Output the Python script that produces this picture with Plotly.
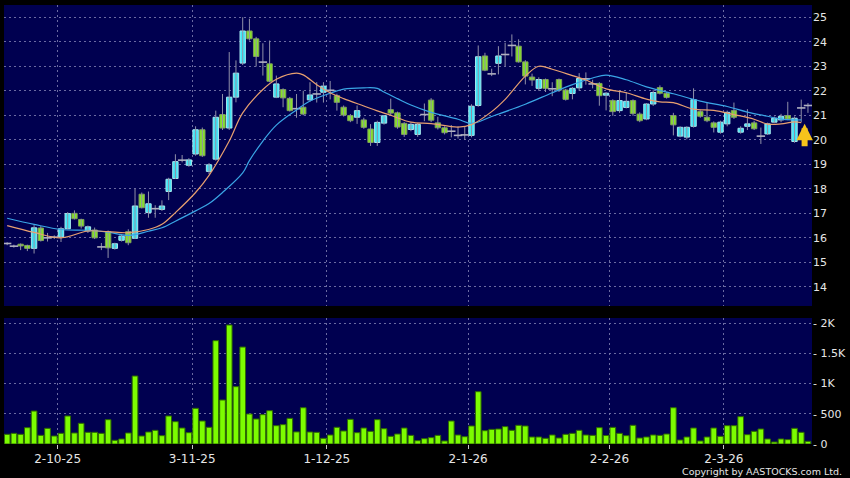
import plotly.graph_objects as go

# month start labels (first trading day of each month) and their candle index
month_labels = ["2-10-25", "3-11-25", "1-12-25", "2-1-26", "2-2-26", "2-3-26"]
month_start = [8, 28, 48, 69, 90, 107]

opens = [
    15.77, 15.66, 15.74, 15.69, 15.57, 16.40, 16.00, 16.03, 16.04, 16.37,
    17.00, 16.75, 16.28, 16.32, 15.63, 16.25, 15.57, 15.90, 16.25, 15.98,
    17.78, 17.03, 17.19, 17.16, 17.89, 18.42, 19.17, 18.96, 19.42, 20.41,
    18.71, 19.21, 21.03, 20.48, 21.74, 23.13, 24.44, 24.12, 23.17, 23.10,
    21.74, 22.05, 21.69, 21.27, 21.33, 21.63, 21.87, 21.94, 22.02, 21.80,
    21.33, 20.99, 20.92, 20.81, 20.44, 19.89, 20.68, 21.23, 21.10, 20.67,
    20.42, 20.22, 21.03, 21.62, 20.69, 20.49, 20.35, 20.18, 20.20, 20.18,
    21.40, 23.42, 22.69, 23.12, 23.48, 23.85, 23.82, 23.18, 22.56, 22.10,
    22.46, 22.08, 22.46, 22.03, 21.89, 22.12, 22.49, 22.28, 22.30, 21.82,
    21.60, 21.19, 21.32, 21.60, 21.05, 20.85, 21.46, 22.13, 21.90, 20.99,
    20.15, 20.11, 20.55, 21.15, 20.92, 20.69, 20.31, 20.65, 21.19, 20.31,
    20.55, 20.69, 20.15, 20.24, 20.72, 20.81, 20.99, 19.93, 21.30, 21.40,
]
highs = [
    15.82, 15.72, 15.77, 15.72, 16.52, 16.48, 16.20, 16.10, 16.45, 17.05,
    17.12, 16.78, 16.50, 16.42, 15.79, 16.30, 15.80, 16.15, 16.35, 18.00,
    17.85, 17.89, 17.33, 17.53, 18.45, 19.41, 19.38, 19.25, 20.55, 20.50,
    19.05, 21.19, 21.87, 23.58, 23.24, 25.00, 24.94, 24.20, 23.94, 24.05,
    22.62, 22.10, 21.75, 21.87, 22.00, 22.35, 22.35, 22.35, 22.40, 21.88,
    21.40, 21.05, 21.40, 20.90, 20.64, 20.78, 21.00, 21.68, 21.15, 20.72,
    20.70, 20.68, 21.48, 21.70, 20.94, 20.55, 20.60, 20.55, 20.52, 21.45,
    23.85, 23.55, 22.90, 23.82, 23.96, 24.30, 24.10, 23.25, 22.70, 22.55,
    22.50, 22.35, 22.50, 22.08, 22.15, 22.72, 22.75, 22.45, 22.35, 21.95,
    21.65, 22.00, 21.95, 21.65, 21.12, 21.50, 22.02, 22.22, 21.95, 21.10,
    20.55, 20.55, 22.10, 21.20, 21.52, 20.75, 20.78, 21.19, 21.52, 20.55,
    21.25, 20.78, 20.50, 20.70, 20.95, 21.06, 21.55, 20.95, 21.64, 21.50,
]
lows = [
    15.70, 15.60, 15.50, 15.46, 15.36, 15.85, 15.85, 15.95, 15.83, 16.35,
    16.75, 16.38, 16.20, 15.95, 15.50, 15.18, 15.52, 15.85, 15.70, 15.95,
    17.20, 16.82, 16.82, 17.10, 17.54, 18.40, 19.08, 18.90, 19.35, 19.30,
    18.60, 19.15, 20.40, 20.40, 21.53, 23.05, 24.05, 22.99, 22.62, 22.35,
    21.70, 21.33, 21.15, 20.90, 21.00, 21.55, 21.52, 21.52, 21.65, 21.19,
    20.95, 20.72, 20.65, 20.45, 19.75, 19.75, 20.62, 20.98, 20.45, 20.12,
    20.35, 20.12, 20.76, 20.72, 20.42, 20.22, 20.10, 20.05, 20.00, 20.10,
    21.35, 22.80, 22.60, 22.67, 23.00, 23.40, 23.15, 22.26, 22.20, 22.00,
    21.95, 21.78, 21.95, 21.60, 21.65, 22.00, 22.25, 22.10, 21.39, 21.20,
    20.98, 21.10, 21.28, 20.98, 20.72, 20.80, 21.38, 21.85, 21.68, 20.18,
    20.10, 20.02, 20.50, 20.90, 20.72, 20.30, 20.25, 20.55, 20.85, 20.25,
    20.40, 20.40, 19.83, 20.20, 20.68, 20.72, 20.80, 19.88, 20.72, 21.10,
]
closes = [
    15.77, 15.66, 15.67, 15.57, 16.41, 15.89, 16.00, 16.03, 16.37, 16.99,
    16.78, 16.48, 16.45, 16.00, 15.63, 15.59, 15.76, 16.07, 15.80, 17.30,
    17.23, 17.39, 17.19, 17.30, 18.39, 19.11, 19.17, 19.18, 20.41, 19.35,
    18.98, 20.92, 20.48, 21.74, 22.72, 24.44, 24.12, 23.40, 23.17, 22.39,
    22.28, 21.71, 21.19, 21.27, 21.05, 21.83, 21.87, 22.19, 22.02, 21.53,
    21.01, 20.78, 21.19, 20.51, 19.89, 20.71, 20.98, 21.09, 20.52, 20.22,
    20.63, 20.63, 21.03, 20.80, 20.49, 20.29, 20.35, 20.18, 20.20, 21.37,
    23.39, 22.84, 22.69, 23.42, 23.48, 23.85, 23.18, 22.60, 22.44, 22.46,
    22.10, 22.08, 22.03, 21.65, 22.10, 22.50, 22.49, 22.28, 21.80, 21.90,
    21.15, 21.60, 21.57, 21.07, 20.78, 21.46, 21.93, 21.90, 21.73, 20.61,
    20.51, 20.51, 21.64, 20.96, 20.78, 20.51, 20.72, 21.12, 20.92, 20.47,
    20.65, 20.45, 20.15, 20.65, 20.88, 20.96, 20.85, 20.88, 21.30, 21.40,
]
volume = [
    160, 176, 160, 270, 545, 143, 259, 132, 176, 463,
    182, 342, 193, 193, 176, 402, 61, 83, 182, 1124,
    132, 198, 226, 138, 463, 369, 264, 187, 590, 380,
    276, 1708, 727, 1967, 948, 1603, 496, 413, 485, 551,
    303, 320, 424, 200, 600, 198, 193, 94, 149, 276,
    215, 408, 187, 264, 209, 402, 253, 127, 165, 264,
    143, 55, 88, 105, 143, 50, 380, 149, 121, 298,
    865, 220, 242, 248, 287, 226, 309, 298, 116, 116,
    94, 149, 99, 160, 176, 226, 149, 143, 270, 140,
    275, 176, 138, 309, 99, 116, 149, 143, 165, 600,
    66, 116, 264, 50, 116, 264, 127, 303, 303, 452,
    154, 209, 248, 83, 33, 83, 72, 259, 193, 44,
]

# moving averages at these candle positions
ma_short_idx = [0, 4, 8, 12, 15, 18, 21, 23, 25, 28, 30, 33, 35, 38, 40, 43, 44, 46, 48, 50,
                53, 55, 57, 60, 63, 67, 69, 72, 74, 77, 79, 81, 84, 86, 89, 92, 95, 97, 99,
                102, 105, 108, 111, 113, 115, 117, 118]
ma_short = [16.50, 16.22, 16.00, 16.28, 16.25, 16.21, 16.34, 16.55, 17.03, 17.85, 18.55, 19.95,
            21.10, 22.05, 22.47, 22.72, 22.65, 22.25, 21.92, 21.68, 21.38, 21.18, 21.00, 20.72,
            20.66, 20.52, 20.62, 21.15, 21.65, 22.60, 23.00, 22.88, 22.62, 22.44, 22.08, 21.92,
            21.66, 21.55, 21.52, 21.25, 21.20, 21.03, 20.84, 20.64, 20.65, 20.73, 20.70]
ma_long_idx = [0, 4, 8, 12, 15, 18, 21, 23, 25, 28, 30, 32, 35, 36, 38, 40, 43, 45, 48, 50,
               53, 55, 56, 58, 60, 63, 67, 69, 72, 77, 81, 84, 87, 89, 92, 95, 99, 103, 107,
               110, 113, 115, 117, 118]
ma_long = [16.80, 16.55, 16.34, 16.31, 16.23, 16.10, 16.27, 16.41, 16.68, 17.10, 17.40, 17.85,
           18.65, 19.15, 19.95, 20.60, 21.22, 21.58, 21.90, 22.07, 22.12, 22.10, 21.95, 21.68,
           21.42, 21.12, 20.84, 20.67, 20.95, 21.45, 21.92, 22.25, 22.52, 22.64, 22.45, 22.16,
           21.88, 21.58, 21.36, 21.13, 20.96, 20.84, 20.81, 20.81]

NAVY = "#000050"
GRID = "rgba(125,125,175,0.85)"
TEXT = "#E6E6E6"
FONT = "DejaVu Sans"

idx = list(range(len(closes)))
up = [i for i in idx if closes[i] > opens[i]]
down = [i for i in idx if closes[i] < opens[i]]
flat = [i for i in idx if closes[i] == opens[i]]

fig = go.Figure()

# wicks
wx, wy = [], []
for i in idx:
    wx += [i, i, None]
    wy += [lows[i], highs[i], None]
fig.add_trace(go.Scatter(x=wx, y=wy, mode="lines", line={"color": "#9090A8", "width": 1},
                         hoverinfo="skip", showlegend=False))


def body(sel, fill, edge):
    return go.Bar(
        x=sel,
        y=[abs(closes[i] - opens[i]) for i in sel],
        base=[min(opens[i], closes[i]) for i in sel],
        width=0.8,
        marker={"color": fill, "line": {"color": edge, "width": 1}},
        hoverinfo="skip",
        showlegend=False,
    )


fig.add_trace(body(up, "#3FE6F6", "#A6E8EE"))
fig.add_trace(body(down, "#86E22A", "#7E9E5A"))
fig.add_trace(go.Scatter(
    x=flat, y=[closes[i] for i in flat], mode="markers",
    marker={"symbol": "line-ew", "size": 6, "line": {"color": "#B0B0C0", "width": 1.6}},
    hoverinfo="skip", showlegend=False,
))

# moving averages
fig.add_trace(go.Scatter(x=ma_long_idx, y=ma_long, mode="lines", line_shape="spline",
                         line={"color": "#3AA6E6", "width": 1.2}, hoverinfo="skip", showlegend=False))
fig.add_trace(go.Scatter(x=ma_short_idx, y=ma_short, mode="lines", line_shape="spline",
                         line={"color": "#E8A070", "width": 1.2}, hoverinfo="skip", showlegend=False))

# volume
fig.add_trace(go.Bar(
    x=idx, y=volume, width=0.84, xaxis="x2", yaxis="y2",
    marker={"color": "#7CFC00", "line": {"color": "#2F6A00", "width": 1}},
    hoverinfo="skip", showlegend=False,
))

# signal arrow under the latest candles
fig.add_annotation(
    x=len(idx) - 1.5, y=20.65, xref="x", yref="y", text="",
    showarrow=True, ax=0, ay=24, arrowhead=2, arrowsize=0.55, arrowwidth=6,
    arrowcolor="#F7C31B",
)

fig.add_annotation(
    text="Copyright by AASTOCKS.com Ltd.", xref="paper", yref="paper",
    x=1.0395, y=-0.062, xanchor="right", yanchor="middle", showarrow=False,
    font={"family": FONT, "size": 9.5, "color": TEXT},
)

grid_vals = [m - 0.5 for m in month_start]
x_range = [-0.47, len(idx) - 0.4]

fig.update_layout(
    width=850,
    height=478,
    margin={"l": 4, "r": 36, "t": 5, "b": 34},
    paper_bgcolor="#000000",
    plot_bgcolor=NAVY,
    barmode="overlay",
    showlegend=False,
    font={"family": FONT, "size": 11, "color": TEXT},
    xaxis={
        "domain": [0, 1], "anchor": "y", "range": x_range,
        "tickvals": grid_vals, "showticklabels": False,
        "showgrid": True, "gridcolor": GRID, "griddash": "2px,3px", "gridwidth": 1,
        "zeroline": False, "showline": False,
    },
    xaxis2={
        "domain": [0, 1], "anchor": "y2", "matches": "x", "range": x_range,
        "tickvals": grid_vals, "ticktext": month_labels,
        "ticks": "outside", "ticklen": 4, "tickcolor": "#C8C8C8",
        "tickfont": {"family": FONT, "size": 12, "color": TEXT},
        "showgrid": True, "gridcolor": GRID, "griddash": "2px,3px", "gridwidth": 1,
        "zeroline": False, "showline": False,
    },
    yaxis={
        "domain": [0.3144, 1], "anchor": "x", "side": "right",
        "range": [13.22, 25.5], "tickvals": list(range(14, 26)), "tickprefix": "- ",
        "showgrid": True, "gridcolor": GRID, "griddash": "2px,3px", "gridwidth": 1,
        "zeroline": False, "showline": False, "ticks": "",
        "tickfont": {"family": FONT, "size": 11, "color": TEXT},
    },
    yaxis2={
        "domain": [0, 0.287], "anchor": "x2", "side": "right",
        "range": [0, 2083], "tickvals": [0, 500, 1000, 1500, 2000],
        "ticktext": ["- 0", "- 500", "- 1K", "- 1.5K", "- 2K"],
        "showgrid": True, "gridcolor": GRID, "griddash": "2px,3px", "gridwidth": 1,
        "zeroline": False, "showline": False, "ticks": "",
        "tickfont": {"family": FONT, "size": 11, "color": TEXT},
    },
)

# the page's default body margin would shift the figure inside the window
fig.write_html(
    "out.html",
    config={"displayModeBar": False},
    post_script="document.body.style.margin='0';",
)
